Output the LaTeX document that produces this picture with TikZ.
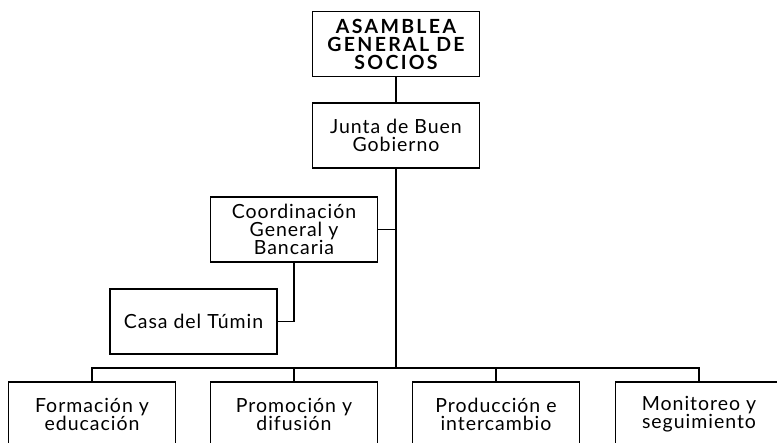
\documentclass[tikz,border=0pt]{standalone}
\usepackage{fontspec}
\setmainfont[LetterSpace=5]{Lato}
\begin{document}
\begin{tikzpicture}[x=1pt, y=-1pt,
    caja/.style={draw, line width=1.6pt, inner sep=0pt, minimum width=167pt, minimum height=65pt, align=center, font=\fontsize{19.5}{18}\selectfont},
    titulo/.style={font=\bfseries\fontsize{19.5}{18}\selectfont\addfontfeatures{LetterSpace=12}},
    linea/.style={line width=1.6pt}]
    \useasboundingbox (0,0) rectangle (777,443);
    \fill [white] (0,0) rectangle (777,443);
    \node [caja, titulo] at (396, 44) (asamblea) {ASAMBLEA\\GENERAL DE\\SOCIOS};
    \node [caja] at (396, 135.5) (junta) {Junta de Buen\\Gobierno};
    \node [caja] at (294, 229.5) (coord) {Coordinación\\General y\\Bancaria};
    \node [caja] at (193.5, 321.5) (casa) {Casa del Túmin};
    \node [caja] at (92, 414.5) (form) {Formación y\\educación};
    \node [caja] at (294, 414.5) (prom) {Promoción y\\difusión};
    \node [caja] at (496, 414.5) (prod) {Producción e\\intercambio};
    \node [caja] at (699, 414.5) (moni) {Monitoreo y\\seguimiento};
    \coordinate (bus) at (396, 368);

    \draw [linea] (asamblea) -- (junta);
    \draw [linea] (junta) -- (bus);
    \draw [linea] (coord.east) -- (coord.east -| bus);
    \draw [linea] (coord.south) |- (casa.east);
    \foreach \n in {form, prom, prod, moni}
        \draw [linea] (bus) -| (\n.north);
\end{tikzpicture}
\end{document}
